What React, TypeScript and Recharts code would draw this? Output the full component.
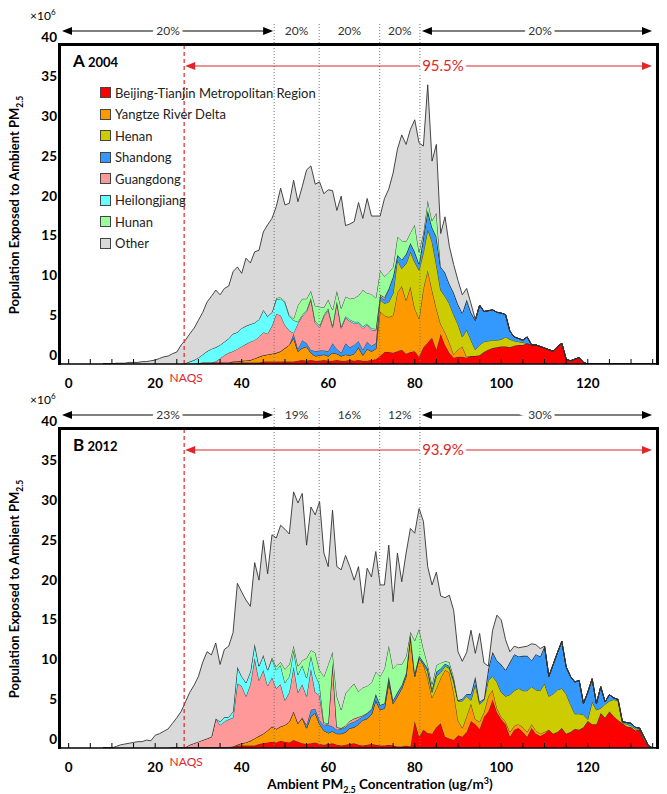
import React from 'react';
import { AreaChart, Area, XAxis, YAxis, ReferenceLine } from 'recharts';

// PM2.5 concentration bins (ug/m3)
const conc = [
  8, 9, 10, 11, 12, 13, 14, 15, 16, 17,
  18, 19, 20, 21, 22, 23, 24, 25, 26, 27,
  28, 29, 30, 31, 32, 33, 34, 35, 36, 37,
  38, 39, 40, 41, 42, 43, 44, 45, 46, 47,
  48, 49, 50, 51, 52, 53, 54, 55, 56, 57,
  58, 59, 60, 61, 62, 63, 64, 65, 66, 67,
  68, 69, 70, 71, 72, 73, 74, 75, 76, 77,
  78, 79, 80, 81, 82, 83, 84, 85, 86, 87,
  88, 89, 90, 91, 92, 93, 94, 95, 96, 97,
  98, 99, 100, 101, 102, 103, 104, 105, 106, 107,
  108, 109, 110, 111, 112, 113, 114, 115, 116, 117,
  118, 119, 120, 121, 122, 123, 124, 125, 126, 127,
  128, 129, 130, 131, 132, 133, 134, 135, 136,
];

// ---- 2004 (population, x10^6) ----
const beijing2004 = [
  0, 0, 0, 0, 0, 0, 0, 0, 0, 0,
  0, 0, 0, 0, 0, 0, 0, 0, 0, 0,
  0, 0, .1, .2, .2, .2, .2, .2, .2, .2,
  .2, .2, .2, .2, .2, .2, .2, .3, .3, .3,
  .3, .3, .3, .3, .3, .4, .5, .4, .5, .4,
  .4, .5, .4, .4, .5, .4, .4, .5, .4, .5,
  .4, .4, .5, .6, 1.0, 1.5, 1.5, 1.4, 1.6, 1.8,
  1.3, 1.5, 1.6, .9, 2.1, 2.7, 3.3, 1.8, 3.8, 2.4,
  1.4, .8, .9, .9, .8, 1.0, 1.0, 1.1, 1.5, 1.8,
  2.0, 2.1, 2.2, 2.2, 2.1, 2.3, 2.4, 2.4, 2.6, 2.4,
  2.4, 2.2, 2.0, 1.8, 1.6, 2.2, 2.6, .6, .4, .6,
  .8, .2, 0, 0, 0, 0, 0, 0, 0, 0,
  0, 0, 0, 0, 0, 0, 0, 0, 0,
];
const yangtze2004 = [
  0, 0, 0, 0, 0, 0, 0, 0, 0, 0,
  0, 0, 0, 0, 0, 0, 0, 0, 0, 0,
  0, 0, 0, 0, 0, 0, 0, 0, 0, 0,
  .1, .15, .2, .25, .3, .5, .7, .8, .9, 1.0,
  1.1, 1.3, 1.7, 2.1, 3.0, 1.2, 1.5, 1.8, .9, .6,
  .7, .7, .6, 1.0, .8, .6, .8, .6, .9, 1.6,
  .7, 1.5, 1.1, 1.3, 5.6, 4.6, 4.4, 4.7, 7.4, 8.0,
  6.7, 8.2, 5.4, 4.8, 7.4, 9.1, 6.0, 5.2, 1.2, 1.6,
  1.3, .4, .9, 1.3, .1, 0, 0, 0, 0, 0,
  0, 0, 0, 0, 0, 0, 0, 0, 0, 0,
  0, 0, 0, 0, 0, 0, 0, 0, 0, 0,
  0, 0, 0, 0, 0, 0, 0, 0, 0, 0,
  0, 0, 0, 0, 0, 0, 0, 0, 0,
];
const henan2004 = [
  0, 0, 0, 0, 0, 0, 0, 0, 0, 0,
  0, 0, 0, 0, 0, 0, 0, 0, 0, 0,
  0, 0, 0, 0, 0, 0, 0, 0, 0, 0,
  0, 0, 0, 0, 0, 0, 0, 0, 0, 0,
  0, 0, 0, 0, 0, 0, 0, 0, 0, 0,
  0, 0, 0, 0, 0, 0, 0, 0, 0, 0,
  0, 0, 0, 0, 1.5, 1.5, 1.9, 2.8, 4.1, 2.2,
  4.6, 4.4, 5.8, 6.1, 4.5, 5.1, 6.1, 5.5, 4.3, 4.5,
  4.9, 5.0, 3.2, 1.2, 3.4, 2.0, .8, 1.3, 1.3, 1.1,
  1.0, .9, .9, 1.2, 1.0, .6, .4, .3, 0, 0,
  0, 0, 0, 0, 0, 0, 0, 0, 0, 0,
  0, 0, 0, 0, 0, 0, 0, 0, 0, 0,
  0, 0, 0, 0, 0, 0, 0, 0, 0,
];
const shandong2004 = [
  0, 0, 0, 0, 0, 0, 0, 0, 0, 0,
  0, 0, 0, 0, 0, 0, 0, 0, 0, 0,
  0, 0, 0, 0, 0, 0, 0, 0, 0, 0,
  0, 0, 0, 0, 0, 0, 0, 0, 0, 0,
  0, 0, 0, 0, .5, .3, 1.0, .4, .4, .6,
  .6, .5, .6, 1.2, .6, .4, 1.4, 1.0, 1.1, .8,
  .7, .9, .7, .7, .4, .5, 1.7, 2.1, .6, 1.1,
  1.2, 1.1, 1.3, .8, 2.0, 2.4, 1.8, 3.5, 2.9, 3.0,
  2.5, 2.8, 2.5, 3.0, 3.8, 3.5, 3.7, 5.0, 3.8, 3.8,
  3.8, 3.5, 3.3, 2.8, 1.0, .5, .4, .3, .8, 0,
  0, 0, 0, 0, 0, 0, 0, 0, 0, 0,
  0, 0, 0, 0, 0, 0, 0, 0, 0, 0,
  0, 0, 0, 0, 0, 0, 0, 0, 0,
];
const guangdong2004 = [
  0, 0, 0, 0, 0, 0, 0, 0, 0, 0,
  0, 0, 0, 0, 0, 0, 0, 0, 0, 0,
  0, 0, 0, 0, 0, 0, .1, .5, .9, 1.2,
  1.3, 1.55, 1.8, 2.05, 2.3, 2.3, 2.5, 2.9, 2.6, 3.5,
  4.9, 4.5, 2.9, 1.8, .1, 3.2, 3.0, 4.0, 6.3, 3.6,
  2.9, 4.3, 5.2, 2.0, 5.8, 3.1, 3.2, 3.3, 2.7, 2.2,
  2.7, 2.1, 2.0, 1.6, .2, .3, 0, 0, 0, 0,
  0, 0, 0, 0, 0, 0, 0, 0, 0, 0,
  0, 0, 0, 0, 0, 0, 0, 0, 0, 0,
  0, 0, 0, 0, 0, 0, 0, 0, 0, 0,
  0, 0, 0, 0, 0, 0, 0, 0, 0, 0,
  0, 0, 0, 0, 0, 0, 0, 0, 0, 0,
  0, 0, 0, 0, 0, 0, 0, 0, 0,
];
const heilongjiang2004 = [
  0, 0, 0, 0, 0, 0, 0, 0, 0, 0,
  0, 0, 0, 0, 0, 0, 0, 0, 0, .1,
  .3, .5, .7, 1.0, 1.4, 1.7, 1.8, 1.7, 1.7, 1.8,
  2.2, 2.1, 2.3, 2.3, 2.2, 2.2, 2.2, 2.8, 2.2, 1.7,
  1.8, 2.1, 2.8, 1.8, 1.6, .2, .2, .2, .2, .2,
  .2, .2, .2, .2, .2, .2, .2, .2, .2, .2,
  .2, .2, .2, .2, 0, 0, 0, 0, 0, 0,
  0, 0, 0, 0, 0, 0, 0, 0, 0, 0,
  0, 0, 0, 0, 0, 0, 0, 0, 0, 0,
  0, 0, 0, 0, 0, 0, 0, 0, 0, 0,
  0, 0, 0, 0, 0, 0, 0, 0, 0, 0,
  0, 0, 0, 0, 0, 0, 0, 0, 0, 0,
  0, 0, 0, 0, 0, 0, 0, 0, 0,
];
const hunan2004 = [
  0, 0, 0, 0, 0, 0, 0, 0, 0, 0,
  0, 0, 0, 0, 0, 0, 0, 0, 0, 0,
  0, 0, 0, 0, 0, 0, 0, 0, 0, 0,
  0, 0, 0, 0, 0, 0, 0, 0, 0, 0,
  .2, .2, .2, .2, .2, 2.1, 2.0, 1.4, .9, 1.9,
  2.4, .9, 1.1, 2.0, 1.3, 2.3, 2.5, 2.6, 3.0, 3.3,
  4.6, 3.8, 4.3, 3.9, 3.1, 2.6, 2.0, 1.2, 2.3, 2.4,
  1.6, 1.3, 3.4, 1.5, .5, 1.3, .8, 3.0, 0, 0,
  0, 0, 0, 0, 0, 0, 0, 0, 0, 0,
  0, 0, 0, 0, 0, 0, 0, 0, 0, 0,
  0, 0, 0, 0, 0, 0, 0, 0, 0, 0,
  0, 0, 0, 0, 0, 0, 0, 0, 0, 0,
  0, 0, 0, 0, 0, 0, 0, 0, 0,
];
const other2004 = [
  0, 0, 0, .1, .1, .1, .2, .2, .2, .3,
  .3, .4, .5, .7, .9, 1.0, 1.3, 1.5, 2.4, 2.9,
  3.5, 4.0, 4.7, 5.3, 6.2, 6.6, 7.2, 6.3, 6.7, 6.6,
  7.8, 8.2, 6.9, 8.5, 7.7, 8.9, 8.7, 9.8, 11.5, 11.8,
  11.5, 13.7, 12.1, 14.0, 17.4, 13.0, 14.1, 16.2, 15.7, 15.3,
  15.7, 14.3, 13.8, 15.0, 10.1, 14.1, 8.9, 9.4, 9.6, 11.7,
  9.0, 11.9, 9.8, 10.3, 6.8, 9.8, 10.5, 11.8, 11.0, 13.3,
  12.2, 13.0, 13.2, 13.7, 10.9, 14.5, 7.5, 8.6, 4.2, 7.0,
  4.7, 3.5, 3.0, 2.3, 1.4, 1.1, .1, 0, 0, 0,
  0, 0, 0, 0, 0, 0, 0, 0, 0, 0,
  0, 0, 0, 0, 0, 0, 0, 0, 0, 0,
  0, 0, 0, 0, 0, 0, 0, 0, 0, 0,
  0, 0, 0, 0, 0, 0, 0, 0, 0,
];

// ---- 2012 (population, x10^6) ----
const beijing2012 = [
  0, 0, 0, 0, 0, 0, 0, 0, 0, 0,
  0, 0, 0, 0, 0, 0, .1, .1, .1, .1,
  .1, .1, .1, .1, .1, .1, .1, .1, .1, .1,
  .1, .3, .3, .3, .3, .3, .5, .6, .7, .8,
  .7, .9, .8, .7, 1.0, .8, .6, .5, .6, .7,
  .5, .4, .5, .6, .4, .3, .4, .5, .6, .4,
  .3, .4, .5, .4, .3, .3, .4, .3, .2, .2,
  .3, .2, 3.4, 1.4, 2.3, 1.9, 1.8, 2.6, 3.1, 1.4,
  1.2, 1.0, 1.6, 1.4, 2.0, 3.4, 3.0, 2.4, 3.9, 4.6,
  6.1, 4.5, 3.6, 3.0, 1.4, 2.3, 2.5, 2.0, 1.4, 2.5,
  1.8, 1.5, 1.8, 2.3, 1.8, 2.0, 2.5, 1.8, 2.0, 2.4,
  2.3, 2.6, 3.4, 3.0, 3.0, 4.4, 3.8, 4.6, 4.0, 3.5,
  3.1, 2.7, 2.6, 2.2, 2.3, 1.0, .2, 0, 0,
];
const yangtze2012 = [
  0, 0, 0, 0, 0, 0, 0, 0, 0, 0,
  0, 0, 0, 0, 0, 0, 0, 0, 0, 0,
  0, 0, 0, 0, 0, 0, 0, 0, 0, 0,
  .1, .1, .3, .4, .6, .9, 1.0, 1.2, 1.5, 1.9,
  1.7, 1.8, 2.1, 2.6, 3.6, 2.3, 3.2, 2.0, 3.4, 3.7,
  2.5, 1.8, 1.4, 1.5, 1.4, 1.5, 1.6, 2.0, 2.0, 2.6,
  3.2, 3.3, 3.7, 5.6, 4.5, 4.7, 7.9, 5.3, 6.3, 7.3,
  8.7, 13.8, 5.6, 9.9, 8.2, 6.9, 4.5, 4.9, 5.7, 8.4,
  8.3, 6.0, 1.9, 1.1, 2.0, 2.2, .6, .9, .6, 1.9,
  1.2, .5, .3, .3, .6, .5, .5, .6, .6, .5,
  .4, .3, .2, 0, 0, 0, 0, 0, 0, 0,
  0, 0, 0, 0, 0, 0, 0, 0, 0, 0,
  0, 0, 0, 0, 0, 0, 0, 0, 0,
];
const henan2012 = [
  0, 0, 0, 0, 0, 0, 0, 0, 0, 0,
  0, 0, 0, 0, 0, 0, 0, 0, 0, 0,
  0, 0, 0, 0, 0, 0, 0, 0, 0, 0,
  0, 0, 0, 0, 0, 0, 0, 0, 0, 0,
  0, 0, 0, 0, 0, 0, 0, 0, 0, 0,
  0, 0, 0, 0, 0, 0, 0, 0, 0, 0,
  0, 0, 0, 0, 0, 0, 0, 0, 0, 0,
  0, 0, 0, 0, 0, .8, .7, 1.5, .7, .5,
  .5, 1.3, 2.4, 3.4, 2.5, .4, 4.4, 2.2, 1.5, 2.0,
  1.7, 3.3, 3.1, 3.2, 4.7, 4.4, 4.5, 4.6, 5.2, 4.7,
  5.1, 5.4, 6.1, 4.2, 5.0, 5.3, 5.0, 5.0, 3.5, 1.9,
  2.0, 1.6, .2, 2.8, 1.8, .6, 1.7, 1.3, 2.1, 2.4,
  .1, .3, .2, .2, .1, .2, 0, 0, 0,
];
const shandong2012 = [
  0, 0, 0, 0, 0, 0, 0, 0, 0, 0,
  0, 0, 0, 0, 0, 0, 0, 0, 0, 0,
  0, 0, 0, 0, 0, 0, 0, 0, 0, 0,
  0, 0, 0, 0, 0, 0, 0, 0, 0, 0,
  0, 0, 0, 0, 0, 0, 0, .4, .8, .5,
  .5, .6, 1.0, .6, .5, .6, .6, .6, .7, .6,
  .5, .6, .6, .8, .6, .6, .7, .4, .5, .4,
  .4, .3, .4, .3, .3, .4, .4, .6, .5, .3,
  .3, .3, .1, .3, .3, .8, 1.0, .3, .2, 1.5,
  3.1, 2.7, 3.5, 3.3, 4.1, 4.6, 4.0, 4.4, 4.4, 3.3,
  4.5, 4.3, 4.7, 2.5, 3.7, 4.7, 5.9, 3.4, 3.5, 4.0,
  4.2, 1.4, 3.4, 2.9, .8, 2.7, .3, .8, .2, .2,
  .1, .2, .3, .2, .1, .2, .1, 0, 0,
];
const guangdong2012 = [
  0, 0, 0, 0, 0, 0, 0, 0, 0, 0,
  0, 0, 0, 0, 0, 0, 0, 0, 0, 0,
  .3, .5, .7, .9, 1.1, 1.3, 3.6, 2.8, 3.2, 3.5,
  3.6, 7.7, 7.2, 5.8, 7.1, 10.1, 7.0, 8.0, 5.6, 6.2,
  5.1, 5.3, 3.1, 3.7, 5.6, 3.9, 4.2, 3.6, 5.2, 2.1,
  3.1, .2, .1, 7.8, .3, .1, .2, .3, .4, .3,
  .1, .1, .1, 0, 0, 0, 0, 0, 0, 0,
  0, 0, 0, 0, 0, 0, 0, 0, 0, 0,
  0, 0, 0, 0, 0, 0, 0, 0, 0, 0,
  0, 0, 0, 0, 0, 0, 0, 0, 0, 0,
  0, 0, 0, 0, 0, 0, 0, 0, 0, 0,
  0, 0, 0, 0, 0, 0, 0, 0, 0, 0,
  0, 0, 0, 0, 0, 0, 0, 0, 0,
];
const heilongjiang2012 = [
  0, 0, 0, 0, 0, 0, 0, 0, 0, 0,
  0, 0, 0, 0, 0, 0, 0, 0, 0, 0,
  0, 0, 0, 0, 0, 0, 0, .4, .6, .3,
  .8, 2.1, 1.2, 1.7, 1.6, 1.8, 1.8, 1.9, 2.0, 2.3,
  2.3, 2.4, 2.2, 2.0, 2.1, 2.2, 2.4, 2.3, 1.6, 2.2,
  1.4, .2, .1, .2, 0, 0, 0, 0, 0, 0,
  0, 0, 0, 0, 0, 0, 0, 0, 0, 0,
  0, 0, 0, 0, 0, 0, 0, 0, 0, 0,
  0, 0, 0, 0, 0, 0, 0, 0, 0, 0,
  0, 0, 0, 0, 0, 0, 0, 0, 0, 0,
  0, 0, 0, 0, 0, 0, 0, 0, 0, 0,
  0, 0, 0, 0, 0, 0, 0, 0, 0, 0,
  0, 0, 0, 0, 0, 0, 0, 0, 0,
];
const hunan2012 = [
  0, 0, 0, 0, 0, 0, 0, 0, 0, 0,
  0, 0, 0, 0, 0, 0, 0, 0, 0, 0,
  0, 0, 0, 0, 0, 0, 0, 0, 0, 0,
  0, 0, 0, 0, 0, 0, 0, 0, 0, .2,
  .4, .4, 1.7, 1.5, .6, 1.1, .6, 2.5, .7, 2.8,
  1.8, 5.8, 7.4, 1.4, 3.9, 2.3, 4.1, 4.1, 4.4, 3.2,
  3.5, 3.4, 3.3, 2.8, 3.6, 4.4, 3.9, 4.0, 3.6, 2.6,
  2.1, .3, 4.1, 3.4, 1.7, .5, .6, .8, .7, .3,
  .5, .4, 0, 0, 0, 0, 0, 0, 0, 0,
  0, 0, 0, 0, 0, 0, 0, 0, 0, 0,
  0, 0, 0, 0, 0, 0, 0, 0, 0, 0,
  0, 0, 0, 0, 0, 0, 0, 0, 0, 0,
  0, 0, 0, 0, 0, 0, 0, 0, 0,
];
const other2012 = [
  0, 0, 0, .2, .4, .5, .6, .7, .8, .8,
  1.0, .9, 1.6, 1.8, 2.1, 2.4, 3.0, 3.7, 4.5, 5.7,
  6.6, 7.3, 8.2, 9.8, 10.9, 10.3, 9.5, 7.2, 8.5, 8.9,
  9.9, 10.5, 10.6, 10.4, 8.2, 10.2, 10.8, 14.4, 12.1, 15.4,
  16.2, 17.2, 17.6, 16.4, 19.3, 20.5, 21.0, 14.2, 18.0, 17.3,
  21.2, 15.5, 12.3, 17.8, 16.3, 17.6, 17.3, 15.3, 13.0, 15.7,
  10.6, 14.8, 13.3, 15.1, 11.5, 10.5, 12.6, 8.4, 13.9, 10.4,
  13.0, 13.0, 13.5, 15.1, 16.0, 12.3, 12.5, 11.7, 8.4, 8.0,
  8.4, 8.3, 6.1, 4.7, 5.2, 8.0, 2.9, 8.6, 4.5, .3,
  2.7, 5.7, 5.6, 3.8, 1.3, 1.0, 1.1, 1.1, 1.2, 2.1,
  1.2, 1.0, 0, 0, 0, 0, 0, 0, 0, 0,
  0, 0, 0, 0, 0, 0, 0, 0, 0, 0,
  0, 0, 0, 0, 0, 0, 0, 0, 0,
];

const regions = [
  { key: 'beijing', name: 'Beijing-Tianjin Metropolitan Region', color: '#ff0000' },
  { key: 'yangtze', name: 'Yangtze River Delta', color: '#ff9900' },
  { key: 'henan', name: 'Henan', color: '#cccc00' },
  { key: 'shandong', name: 'Shandong', color: '#3399ff' },
  { key: 'guangdong', name: 'Guangdong', color: '#ff9999' },
  { key: 'heilongjiang', name: 'Heilongjiang', color: '#66ffff' },
  { key: 'hunan', name: 'Hunan', color: '#99ff99' },
  { key: 'other', name: 'Other', color: '#d9d9d9' },
];

const series2004 = [beijing2004, yangtze2004, henan2004, shandong2004, guangdong2004, heilongjiang2004, hunan2004, other2004];
const series2012 = [beijing2012, yangtze2012, henan2012, shandong2012, guangdong2012, heilongjiang2012, hunan2012, other2012];

const xTicks = [0, 5, 10, 15, 20, 25, 30, 35, 40, 45, 50, 55, 60, 65, 70, 75, 80, 85, 90, 95, 100, 105, 110, 115, 120, 125, 130, 135];
const yTicks = [0, 5, 10, 15, 20, 25, 30, 35, 40];
const quintileBreaks = [47.5, 57.9, 71.9, 81.2];
const naqs = 26.7;
const shares2004 = ['20%', '20%', '20%', '20%', '20%'];
const shares2012 = ['23%', '19%', '16%', '12%', '30%'];

const FONT = 'Lato, "Open Sans", sans-serif';
const RED = '#e0262a';
const X_MIN = -2;
const X_MAX = 136;
const Y_MAX = 40.1;
const CHART_W = 667;
const CHART_H = 400;
const PLOT_LEFT = 60;
const PLOT_RIGHT = 657;
const PLOT_TOP = 45;
const PLOT_BOTTOM = 364;
const X_AXIS_H = 30;

const px = (v: number) => PLOT_LEFT + ((v - X_MIN) / (X_MAX - X_MIN)) * (PLOT_RIGHT - PLOT_LEFT);

function XTick(props: any) {
  const { x, payload } = props;
  const v = payload.value;
  return (
    <g>
      <line x1={x} x2={x} y1={PLOT_BOTTOM} y2={PLOT_BOTTOM - 5} stroke="#000" strokeWidth={1} />
      {v % 20 === 0 && (
        <text x={x} y={PLOT_BOTTOM + 24} textAnchor="middle" fontFamily={FONT} fontWeight={700} fontSize={13.5} fill="#000">
          {v}
        </text>
      )}
    </g>
  );
}

function YTick(props: any) {
  const { y, payload } = props;
  return (
    <text x={57} y={y - 9} dy="0.35em" textAnchor="end" fontFamily={FONT} fontWeight={700} fontSize={13.5} fill="#000">
      {payload.value}
    </text>
  );
}

function Arrow({ x1, x2, y, color }: { x1: number; x2: number; y: number; color: string }) {
  return (
    <g>
      <line x1={x1 + 5} x2={x2 - 5} y1={y} y2={y} stroke={color} strokeWidth={1.2} />
      <polygon points={`${x1},${y} ${x1 + 10},${y - 4} ${x1 + 10},${y + 4}`} fill={color} />
      <polygon points={`${x2},${y} ${x2 - 10},${y - 4} ${x2 - 10},${y + 4}`} fill={color} />
    </g>
  );
}

function Label({ x, y, text, color = '#333', size = 12 }: { x: number; y: number; text: string; color?: string; size?: number }) {
  return (
    <text x={x} y={y} dy="0.35em" textAnchor="middle" fontFamily={FONT} fontSize={size} fill={color}
      stroke="#fff" strokeWidth={7} paintOrder="stroke">
      {text}
    </text>
  );
}

function Panel({ top, letter, year, series, shares, coverage, showLegend }: any) {
  const rows = conc.map((c, i) => {
    const row: Record<string, number> = { c };
    regions.forEach((r, k) => {
      row[r.key] = series[k][i];
    });
    return row;
  });
  const breaksPx = quintileBreaks.map(px);
  const midLabels = [
    (breaksPx[0] + breaksPx[1]) / 2,
    (breaksPx[1] + breaksPx[2]) / 2,
    (breaksPx[2] + breaksPx[3]) / 2,
  ];

  return (
    <div style={{ position: 'absolute', left: 0, top, width: CHART_W, height: CHART_H }}>
      <AreaChart
        width={CHART_W}
        height={CHART_H}
        data={rows}
        margin={{ top: PLOT_TOP, right: CHART_W - PLOT_RIGHT, bottom: CHART_H - PLOT_BOTTOM - X_AXIS_H, left: 0 }}
      >
        <XAxis
          dataKey="c"
          type="number"
          domain={[X_MIN, X_MAX]}
          ticks={xTicks}
          interval={0}
          height={X_AXIS_H}
          allowDataOverflow
          tickLine={false}
          tickSize={0}
          axisLine={{ stroke: '#000', strokeWidth: 1.5 }}
          tick={<XTick />}
        />
        <YAxis
          type="number"
          domain={[0, Y_MAX]}
          ticks={yTicks}
          interval={0}
          width={PLOT_LEFT}
          allowDataOverflow
          axisLine={false}
          tickLine={false}
          tick={<YTick />}
        />
        {regions.map((r) => (
          <Area
            key={r.key}
            type="linear"
            dataKey={r.key}
            stackId="pop"
            stroke="#333"
            strokeWidth={0.9}
            fill={r.color}
            fillOpacity={1}
            dot={false}
            activeDot={false}
            isAnimationActive={false}
          />
        ))}
        {quintileBreaks.map((b) => (
          <ReferenceLine key={b} x={b} stroke="#777" strokeWidth={1} strokeDasharray="1 2" />
        ))}
        <ReferenceLine x={naqs} stroke={RED} strokeWidth={1.2} strokeDasharray="4 3" />
      </AreaChart>

      {/* heavy frame: top, left, right */}
      <div
        style={{
          position: 'absolute', left: 58, top: PLOT_TOP - 2, width: PLOT_RIGHT - 58 + 2, height: PLOT_BOTTOM - PLOT_TOP + 3,
          boxSizing: 'border-box', borderTop: '3px solid #000', borderLeft: '3px solid #000', borderRight: '3px solid #000',
          pointerEvents: 'none',
        }}
      />

      <svg width={CHART_W} height={CHART_H} style={{ position: 'absolute', left: 0, top: 0, pointerEvents: 'none' }}>
        {breaksPx.map((b) => (
          <line key={b} x1={b} x2={b} y1={24} y2={PLOT_TOP - 2} stroke="#777" strokeWidth={1} strokeDasharray="1 2" />
        ))}
        <Arrow x1={62} x2={breaksPx[0] - 1} y={31} color="#000" />
        <Label x={(62 + breaksPx[0]) / 2} y={31} text={shares[0]} />
        <Label x={midLabels[0]} y={31} text={shares[1]} />
        <Label x={midLabels[1]} y={31} text={shares[2]} />
        <Label x={midLabels[2]} y={31} text={shares[3]} />
        <Arrow x1={breaksPx[3] + 2} x2={652} y={31} color="#000" />
        <Label x={540} y={31} text={shares[4]} />

        <Arrow x1={px(naqs) + 1} x2={652} y={66} color={RED} />
        <Label x={443} y={66} text={coverage} color={RED} size={15} />

        <text x={px(naqs) + 2} y={PLOT_BOTTOM + 14} dy="0.35em" textAnchor="middle" fontFamily={FONT} fontSize={12} fill={RED}>
          NAQS
        </text>
      </svg>

      <div style={{ position: 'absolute', left: 30, top: 5, fontFamily: FONT, fontSize: 12, color: '#000', lineHeight: '14px' }}>
        ×10<sup style={{ fontSize: 8 }}>6</sup>
      </div>

      <div style={{ position: 'absolute', left: 73, top: 52, fontFamily: FONT, fontWeight: 700, color: '#000', lineHeight: '18px', whiteSpace: 'nowrap' }}>
        <span style={{ fontSize: 17 }}>{letter}</span>
        <span style={{ fontSize: 13 }}> {year}</span>
      </div>

      <div
        style={{
          position: 'absolute', left: 14 - 150, top: 205 - 9, width: 300, height: 18, textAlign: 'center',
          transform: 'rotate(-90deg)', transformOrigin: '50% 50%', fontFamily: FONT, fontWeight: 700, fontSize: 13,
          lineHeight: '18px', color: '#000', whiteSpace: 'nowrap',
        }}
      >
        Population Exposed to Ambient PM<sub style={{ fontSize: 8.5 }}>2.5</sub>
      </div>

      {showLegend && (
        <div style={{ position: 'absolute', left: 100, top: 82, fontFamily: FONT, fontSize: 13, color: '#222' }}>
          {regions.map((r) => (
            <div key={r.key} style={{ display: 'flex', alignItems: 'center', height: 21.5, whiteSpace: 'nowrap' }}>
              <span style={{ display: 'inline-block', width: 9, height: 9, background: r.color, border: '1px solid #444', marginRight: 4 }} />
              {r.name}
            </div>
          ))}
        </div>
      )}
    </div>
  );
}

export default function App() {
  return (
    <div style={{ position: 'absolute', left: 0, top: 0, width: 667, height: 794, background: '#fff', overflow: 'hidden' }}>
      <Panel top={0} letter="A" year="2004" series={series2004} shares={shares2004} coverage="95.5%" showLegend />
      <Panel top={384} letter="B" year="2012" series={series2012} shares={shares2012} coverage="93.9%" showLegend={false} />
      <div
        style={{
          position: 'absolute', left: 230, top: 777, width: 300, textAlign: 'center', fontFamily: FONT, fontWeight: 700,
          fontSize: 13.5, lineHeight: '15px', color: '#000', whiteSpace: 'nowrap',
        }}
      >
        Ambient PM<sub style={{ fontSize: 9, lineHeight: 0 }}>2.5</sub> Concentration (ug/m<sup style={{ fontSize: 9, lineHeight: 0 }}>3</sup>)
      </div>
    </div>
  );
}
